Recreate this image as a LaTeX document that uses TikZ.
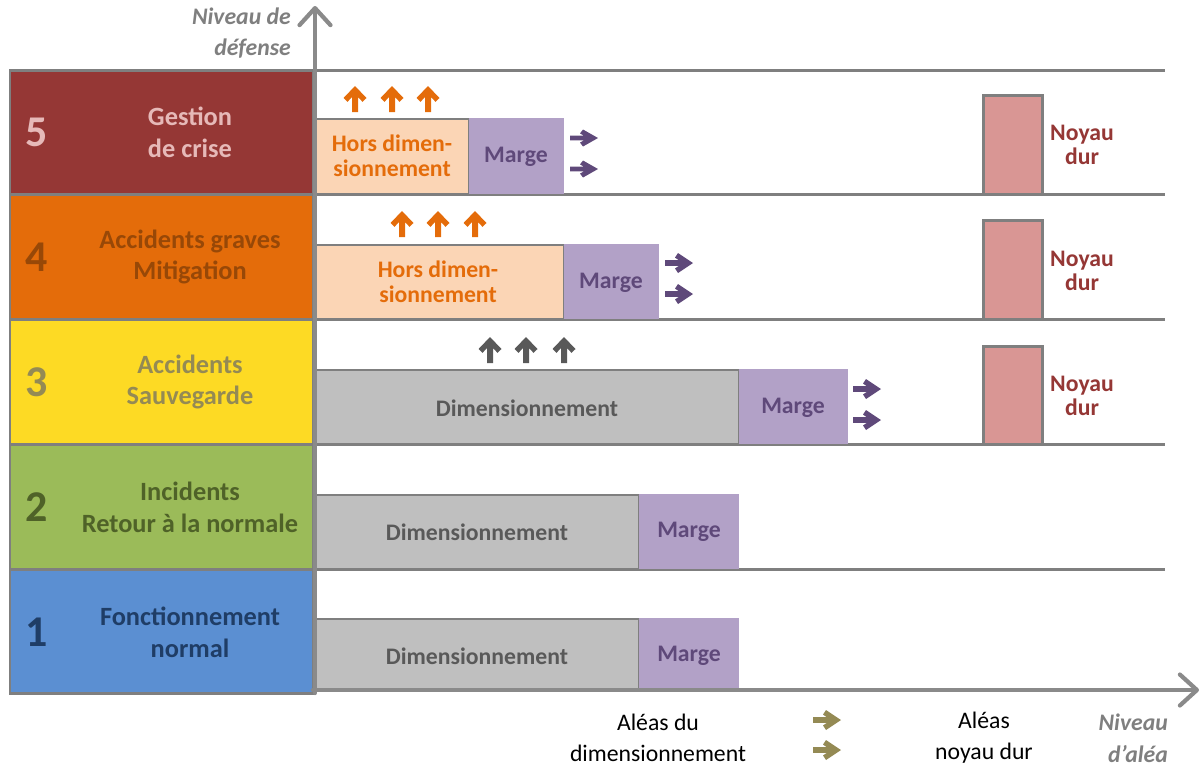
\documentclass[tikz,border=0pt]{standalone}
\usepackage{fontspec}
\setmainfont{Carlito}
\usetikzlibrary{arrows.meta}

% palette
\definecolor{linegray}{HTML}{7F7F7F}
\definecolor{axisgray}{HTML}{8A8A8A}
\definecolor{lvlfive}{HTML}{953735}
\definecolor{lvlfivetxt}{HTML}{E6B9B8}
\definecolor{lvlfour}{HTML}{E46C0A}
\definecolor{lvlfourtxt}{HTML}{984807}
\definecolor{lvlthree}{HTML}{FDDA24}
\definecolor{lvlthreetxt}{HTML}{948A54}
\definecolor{lvltwo}{HTML}{9BBB59}
\definecolor{lvltwotxt}{HTML}{4F6228}
\definecolor{lvlone}{HTML}{5B8FD2}
\definecolor{lvlonetxt}{HTML}{1F3D66}
\definecolor{horsfill}{HTML}{FBD5B5}
\definecolor{horstxt}{HTML}{E46C0A}
\definecolor{margefill}{HTML}{B2A1C7}
\definecolor{margetxt}{HTML}{5F497A}
\definecolor{dimfill}{HTML}{BFBFBF}
\definecolor{dimtxt}{HTML}{595959}
\definecolor{noyaufill}{HTML}{D99694}
\definecolor{noyautxt}{HTML}{953735}
\definecolor{legendarrow}{HTML}{948A54}

\tikzset{
  panel/.style={draw=linegray, line width=1.7pt},
  rowline/.style={draw=linegray, line width=1.7pt},
  framed/.style={draw=linegray, line width=1.2pt},
  axis/.style={draw=axisgray, line width=2.4pt, line cap=round,
    -{Straight Barb[length=0.34cm,width=0.62cm,round]}},
  lvlnum/.style={font=\fontsize{25}{30}\selectfont\bfseries},
  lvllabel/.style={font=\fontsize{15}{18.1}\selectfont\bfseries, align=center},
  boxtxt/.style={font=\fontsize{13.5}{14}\selectfont\bfseries, align=center},
  axislabel/.style={font=\fontsize{13.5}{18}\selectfont\bfseries\itshape,
    text=linegray, align=right},
  legendtxt/.style={font=\fontsize{13.5}{17.6}\selectfont, align=center},
  % bold right-pointing chevron arrow, 28 x 20 px
  rarr/.pic={\fill (-14,-2.8) -- (-0.1,-2.8) -- (-4,-5.4) -- (-1,-10) -- (14,0)
      -- (-1,10) -- (-4,5.4) -- (-0.1,2.8) -- (-14,2.8) -- cycle;},
  % bold upward chevron arrow, 23 x 26 px
  uarr/.pic={\fill (-3,13) -- (-3,-1.9) -- (-7.5,2.8) -- (-11.5,-1) -- (0,-13)
      -- (11.5,-1) -- (7.5,2.8) -- (3,-1.9) -- (3,13) -- cycle;},
}

\begin{document}
\begin{tikzpicture}[x=0.02cm,y=-0.02cm]
\useasboundingbox (0,0) rectangle (1202,769);

% ---- defence levels (left column)
\filldraw[panel, fill=lvlfive]  (10,70)  rectangle (313,194);
\filldraw[panel, fill=lvlfour]  (10,194) rectangle (313,319);
\filldraw[panel, fill=lvlthree] (10,319) rectangle (313,444);
\filldraw[panel, fill=lvltwo]   (10,444) rectangle (313,569);
\filldraw[panel, fill=lvlone]   (10,569) rectangle (313,693);

\node[lvlnum, text=lvlfivetxt]  (n5) at (37,132) {5};
\node[lvlnum, text=lvlfourtxt]  (n4) at (37,257) {4};
\node[lvlnum, text=lvlthreetxt] (n3) at (37,382) {3};
\node[lvlnum, text=lvltwotxt]   (n2) at (37,507) {2};
\node[lvlnum, text=lvlonetxt]   (n1) at (37,632) {1};

\node[lvllabel, text=lvlfivetxt]  (l5) at (190,132) {Gestion\\de crise};
\node[lvllabel, text=lvlfourtxt]  (l4) at (190,257) {Accidents graves\\Mitigation};
\node[lvllabel, text=lvlthreetxt] (l3) at (190,382) {Accidents\\Sauvegarde};
\node[lvllabel, text=lvltwotxt]   (l2) at (190,507) {Incidents\\Retour à la normale};
\node[lvllabel, text=lvlonetxt]   (l1) at (190,632) {Fonctionnement\\normal};

% ---- row separators
\foreach \yy in {70,194,319,444,569}
  \draw[rowline] (313,\yy) -- (1165,\yy);

% ---- level 5
\filldraw[framed, fill=horsfill] (316,119) rectangle (469,194);
\fill[margefill] (469,118) rectangle (564,194);
\node[boxtxt, text=horstxt]  (h5) at (392,156) {Hors dimen-\\sionnement};
\node[boxtxt, text=margetxt] (m5) at (516,157) {Marge};
\fill[lvlfour] (355,99) pic {uarr} (392,99) pic {uarr} (428,99) pic {uarr};
\fill[margetxt] (584,138) pic[yscale=0.85] {rarr} (584,169) pic[yscale=0.85] {rarr};
\filldraw[framed, line width=1.7pt, fill=noyaufill] (983,95) rectangle (1042,194);
\node[boxtxt, text=noyautxt] (k5) at (1082,145) {Noyau\\dur};

% ---- level 4
\filldraw[framed, fill=horsfill] (316,245) rectangle (564,319);
\fill[margefill] (564,244) rectangle (659,319);
\node[boxtxt, text=horstxt]  (h4) at (438,282) {Hors dimen-\\sionnement};
\node[boxtxt, text=margetxt] (m4) at (611,283) {Marge};
\fill[lvlfour] (402,224) pic {uarr} (438,224) pic {uarr} (475,224) pic {uarr};
\fill[margetxt] (679,263) pic {rarr} (679,294) pic {rarr};
\filldraw[framed, line width=1.7pt, fill=noyaufill] (983,220) rectangle (1042,319);
\node[boxtxt, text=noyautxt] (k4) at (1082,271) {Noyau\\dur};

% ---- level 3
\filldraw[framed, fill=dimfill] (316,370) rectangle (739,444);
\fill[margefill] (739,369) rectangle (848,444);
\node[boxtxt, text=dimtxt]   (d3) at (527,408) {Dimensionnement};
\node[boxtxt, text=margetxt] (m3) at (793,408) {Marge};
\fill[dimtxt] (490,350) pic {uarr} (526,350) pic {uarr} (564,350) pic {uarr};
\fill[margetxt] (867,389) pic {rarr} (867,420) pic {rarr};
\filldraw[framed, line width=1.7pt, fill=noyaufill] (983,346) rectangle (1042,444);
\node[boxtxt, text=noyautxt] (k3) at (1082,396) {Noyau\\dur};

% ---- level 2
\filldraw[framed, fill=dimfill] (316,495) rectangle (639,569);
\fill[margefill] (639,494) rectangle (739,569);
\node[boxtxt, text=dimtxt]   (d2) at (477,532) {Dimensionnement};
\node[boxtxt, text=margetxt] (m2) at (689,532) {Marge};

% ---- level 1
\filldraw[framed, fill=dimfill] (316,619) rectangle (639,690);
\fill[margefill] (639,618) rectangle (739,690);
\node[boxtxt, text=dimtxt]   (d1) at (477,656) {Dimensionnement};
\node[boxtxt, text=margetxt] (m1) at (689,656) {Marge};

% ---- axes
\coordinate (origin) at (315,693);
\coordinate (ytip) at (315,6);
\coordinate (xorigin) at (313,690);
\coordinate (xtip) at (1199,690);
\draw[axis] (origin) -- (ytip);
\draw[axis] (xorigin) -- (xtip);

\node[axislabel, anchor=east] (ylab) at (297,33) {Niveau de\\défense};
\node[axislabel, anchor=east] (xlab) at (1174,738) {Niveau\\d’aléa};

% ---- legend
\node[legendtxt] (leg1) at (658,738) {Aléas du\\dimensionnement};
\fill[legendarrow] (827,720) pic {rarr} (827,750) pic {rarr};
\node[legendtxt] (leg2) at (984,738) {Aléas\\noyau dur};
\end{tikzpicture}
\end{document}
